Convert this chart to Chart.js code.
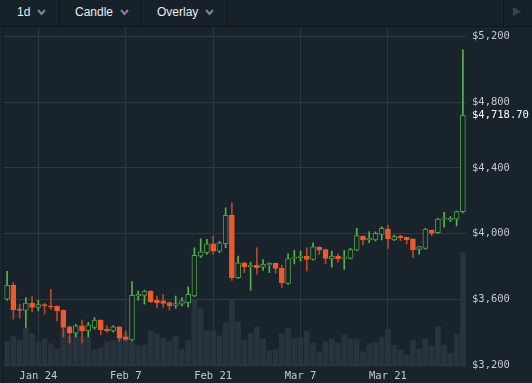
<!DOCTYPE html>
<html>
<head>
<meta charset="utf-8">
<script src="https://cdn.jsdelivr.net/npm/chart.js@4.4.1/dist/chart.umd.min.js"></script>
<style>
  html, body { margin: 0; padding: 0; background: #18232c; }
  #wrap { position: relative; width: 532px; height: 383px; overflow: hidden; background: #18232c; }
  .toolbar { position: absolute; left: 0; top: 0; width: 532px; height: 26px; background: #16212a;
    border-bottom: 1px solid #0e151b; font-family: "Liberation Sans", Arial, sans-serif; font-size: 12px; color: #e8ecef; }
  .item { position: absolute; top: 0; height: 26px; line-height: 25px; white-space: nowrap; }
  .item svg { position: absolute; top: 9px; }
  .sep { position: absolute; top: 0; width: 1px; height: 26px; background: #0e151b; }
  .edge { position: absolute; left: 3px; top: 27px; width: 1px; height: 356px; background: #111a21; }
  #chartBox { position: absolute; left: 0; top: 27px; width: 532px; height: 356px; }
</style>
</head>
<body>
<div id="wrap">
  <div class="toolbar">
    <div class="item" style="left:17px">1d<svg style="left:20px" width="9" height="7"><polyline points="1,1 4.5,5 8,1" fill="none" stroke="#7c8792" stroke-width="2"/></svg></div>
    <div class="sep" style="left:59px"></div>
    <div class="item" style="left:75px">Candle<svg style="left:45px" width="9" height="7"><polyline points="1,1 4.5,5 8,1" fill="none" stroke="#7c8792" stroke-width="2"/></svg></div>
    <div class="sep" style="left:141px"></div>
    <div class="item" style="left:157px">Overlay<svg style="left:48px" width="9" height="7"><polyline points="1,1 4.5,5 8,1" fill="none" stroke="#7c8792" stroke-width="2"/></svg></div>
    <div class="sep" style="left:226px"></div>
    <div class="sep" style="left:503px"></div>
    <svg style="position:absolute;left:513px;top:7px" width="9" height="10"><polygon points="0,0 8,4.5 0,9" fill="#3a4550"/></svg>
  </div>
  <div class="edge"></div>
  <div id="chartBox"><canvas id="chart"></canvas></div>
</div>
<script>
const dates = [
  'Jan 19','Jan 20','Jan 21','Jan 22','Jan 23','Jan 24','Jan 25','Jan 26','Jan 27','Jan 28','Jan 29','Jan 30','Jan 31',
  'Feb 1','Feb 2','Feb 3','Feb 4','Feb 5','Feb 6','Feb 7','Feb 8','Feb 9','Feb 10','Feb 11','Feb 12','Feb 13','Feb 14',
  'Feb 15','Feb 16','Feb 17','Feb 18','Feb 19','Feb 20','Feb 21','Feb 22','Feb 23','Feb 24','Feb 25','Feb 26','Feb 27','Feb 28',
  'Mar 1','Mar 2','Mar 3','Mar 4','Mar 5','Mar 6','Mar 7','Mar 8','Mar 9','Mar 10','Mar 11','Mar 12','Mar 13','Mar 14',
  'Mar 15','Mar 16','Mar 17','Mar 18','Mar 19','Mar 20','Mar 21','Mar 22','Mar 23','Mar 24','Mar 25','Mar 26','Mar 27',
  'Mar 28','Mar 29','Mar 30','Mar 31','Apr 1','Apr 2'
];
const open = [3600,3685,3540,3532,3576,3550,3568,3559,3557,3533, 3432,3394,3438,3408,3428,3473,3418,3408,3432,3371,
  3353,3620,3624,3650,3594,3590,3580,3563,3570,3580, 3620,3862,3883,3938,3893,3938,4111,3732,3822,3798,
  3806,3796,3810,3818,3788,3697,3848,3853,3862,3842, 3917,3903,3846,3862,3848,3848,3899,3985,3961,3961,
  3995,4027,3961,3985,3977,3967,3904,3910,4021,4005, 4087,4082,4088,4133];
const high = [3770,3701,3570,3610,3616,3594,3576,3661,3560,3535, 3438,3448,3473,3459,3489,3475,3438,3440,3434,3408,
  3707,3650,3655,3652,3620,3630,3584,3620,3610,3675, 3913,3968,3964,3984,3953,4156,4186,3862,3825,3826,
  3913,3842,3822,3820,3808,3877,3897,3893,3913,3944, 3920,3905,3893,3877,3897,3910,4032,3985,4011,4010,
  4041,4052,3991,3991,3977,3967,3922,4032,4022,4092, 4129,4103,4137,5117];
const low = [3595,3479,3485,3428,3523,3529,3509,3539,3468,3371, 3335,3371,3335,3371,3418,3384,3398,3400,3344,3347,
  3347,3594,3570,3580,3550,3550,3533,3545,3559,3553, 3615,3853,3873,3873,3883,3913,3715,3727,3762,3655,
  3752,3776,3762,3758,3671,3691,3815,3832,3772,3838, 3873,3816,3796,3826,3782,3845,3895,3930,3944,3955,
  3961,3910,3957,3957,3936,3853,3875,3904,3987,4001, 4038,4072,4046,4125];
const close = [3685,3535,3532,3576,3550,3568,3559,3553,3529,3428, 3394,3438,3408,3444,3473,3414,3408,3432,3364,3356,
  3624,3630,3650,3586,3580,3574,3559,3574,3590,3630, 3868,3889,3938,3893,3944,4111,3732,3822,3798,3806,
  3792,3812,3818,3788,3701,3848,3856,3862,3842,3919, 3899,3848,3862,3846,3856,3903,3987,3961,3971,4001,
  4032,3967,3981,3975,3961,3900,3920,4027,4001,4088, 4093,4093,4133,4718.70];
// volume, thousands
const volume = [5.8,7.1,6.3,9.2,7.8,5.6,6.5,5.3,4.1,8.8, 7.1,7.9,7.1,6.9,3.8,4.3,5.8,6.1,7.0,8.0,
  5.9,4.8,5.0,8.5,7.9,6.7,6.0,7.1,4.0,6.1, 16.3,14.3,8.6,8.5,7.3,10.5,16.3,10.8,6.3,7.9,
  9.4,6.5,3.5,3.8,7.9,9.2,6.5,6.9,8.5,5.4, 3.3,5.8,6.5,5.4,7.5,6.5,6.5,3.3,5.3,5.6,
  7.0,9.0,4.9,3.8,2.5,6.2,4.0,6.5,4.7,9.6, 5.0,2.9,7.6,28.1];
const dateTicks = ['Jan 24', 'Feb 7', 'Feb 21', 'Mar 7', 'Mar 21'];
const priceTicks = [3200, 3600, 4000, 4400, 4800, 5200];

const BG = '#18232c';
const UP = '#4f9e47';
const UP_WICK = '#58b447';
const DOWN = '#ef5a2b';
const DOWN_WICK = '#b8492a';
const GRID = '#2c3842';
const LABEL = '#c4cad0';
const MONO = '"DejaVu Sans Mono", monospace';

const isUp = close.map((c, i) => c >= open[i]);
const money = v => '$' + v.toLocaleString('en-US');

const lastPrice = {
  id: 'lastPrice',
  afterDraw(chart) {
    const { ctx, chartArea, scales } = chart;
    const v = close[close.length - 1];
    const y = scales.y.getPixelForValue(v);
    ctx.save();
    ctx.font = '10.5px ' + MONO;
    ctx.fillStyle = '#ffffff';
    ctx.textBaseline = 'middle';
    ctx.textAlign = 'left';
    ctx.fillText('$' + v.toLocaleString('en-US', { minimumFractionDigits: 2 }), chartArea.right + 6, y);
    ctx.restore();
  }
};

new Chart(document.getElementById('chart'), {
  type: 'bar',
  data: {
    labels: dates,
    datasets: [
      {
        label: 'Body',
        data: open.map((o, i) => [o, close[i]]),
        backgroundColor: isUp.map(u => u ? BG : DOWN),
        borderColor: isUp.map(u => u ? UP : DOWN),
        borderWidth: 1,
        borderSkipped: false,
        barThickness: 5,
        grouped: false,
        yAxisID: 'y',
        order: 0
      },
      {
        label: 'Wick',
        data: low.map((l, i) => [l, high[i]]),
        backgroundColor: isUp.map(u => u ? UP_WICK : DOWN_WICK),
        borderWidth: 0,
        barThickness: 1,
        grouped: false,
        yAxisID: 'y',
        order: 1
      },
      {
        label: 'Volume',
        data: volume,
        backgroundColor: '#28333d',
        borderWidth: 0,
        barThickness: 5,
        grouped: false,
        yAxisID: 'vol',
        order: 2
      }
    ]
  },
  options: {
    responsive: true,
    maintainAspectRatio: false,
    animation: false,
    layout: { padding: { left: 4, top: 0, right: 0, bottom: 0 } },
    plugins: {
      legend: { display: false },
      tooltip: { enabled: false }
    },
    scales: {
      x: {
        type: 'category',
        offset: true,
        grid: { color: GRID, offset: false, drawTicks: false },
        border: { display: false },
        ticks: { color: LABEL, font: { family: MONO, size: 10.5 }, padding: 5, maxRotation: 0, autoSkip: false },
        afterBuildTicks: axis => { axis.ticks = dateTicks.map(d => ({ value: dates.indexOf(d) })); },
        afterFit: axis => {
          axis.height = 18;
          axis.paddingLeft = 0; axis.paddingRight = 0;
        }
      },
      y: {
        position: 'right',
        min: 3200,
        max: 5256.6,
        grid: { color: GRID, drawTicks: false },
        border: { display: false },
        ticks: { color: LABEL, font: { family: MONO, size: 10.5 }, padding: 6, callback: v => money(v) },
        afterBuildTicks: axis => { axis.ticks = priceTicks.map(v => ({ value: v })); },
        afterFit: axis => {
          axis.width = 66;
          axis.paddingTop = 0; axis.paddingBottom = 0;
        }
      },
      vol: {
        display: false,
        min: 0,
        max: 84.5
      }
    }
  },
  plugins: [lastPrice]
});
</script>
</body>
</html>
